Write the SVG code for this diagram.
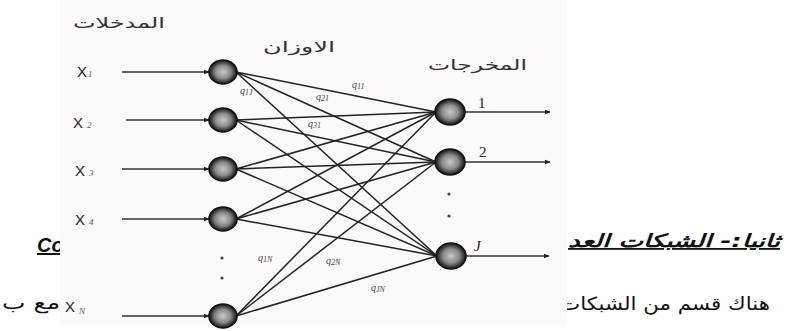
<svg xmlns="http://www.w3.org/2000/svg" width="788" height="331" viewBox="0 0 788 331">
<style>
.ar{font-family:"DejaVu Sans",sans-serif;fill:#111}
.lbl{font-family:"DejaVu Sans",sans-serif;fill:#333;font-size:15px}
.x{font-family:"Liberation Sans",sans-serif;font-size:15px;fill:#222}
.sub{font-family:"Liberation Serif",serif;font-style:italic;font-size:9px;fill:#555}
.q{font-family:"Liberation Serif",serif;font-style:italic;font-size:10px;fill:#444}
.qs{font-size:8px}
.out{font-family:"Liberation Serif",serif;font-size:15px;fill:#222}
.edge{stroke:#222;stroke-width:1.5;fill:none}
.arr{stroke:#333;stroke-width:1.5;fill:none;marker-end:url(#ah)}
.node{fill:url(#ng);stroke:#111;stroke-width:1.6}
.dot{fill:#444}
</style>
<defs>
<radialGradient id="ng" cx="0.5" cy="0.5" r="0.5">
<stop offset="0" stop-color="#c8c8c8"/>
<stop offset="0.55" stop-color="#8a8a8a"/>
<stop offset="1" stop-color="#111"/>
</radialGradient>
<marker id="ah" viewBox="0 0 10 10" refX="9" refY="5" markerWidth="4" markerHeight="4" orient="auto" markerUnits="strokeWidth">
<path d="M0,1 L10,5 L0,9 z" fill="#222"/>
</marker>
</defs>
<rect width="788" height="331" fill="#ffffff"/>
<g id="page-text">
<text x="37" y="252" style="font-family:'Liberation Sans',sans-serif;font-weight:bold;font-style:italic;font-size:20px;text-decoration:underline;fill:#111">Com</text>
<text class="ar" x="2" y="309" textLength="58" lengthAdjust="spacingAndGlyphs" style="font-size:18px">مع ب</text>
<text class="ar" x="568" y="247" textLength="212" lengthAdjust="spacingAndGlyphs" style="font-size:18px;font-weight:bold;font-style:italic;text-decoration:underline">ثانيا:- الشبكات العد</text>
<text class="ar" x="560" y="310" textLength="210" lengthAdjust="spacingAndGlyphs" style="font-size:18px">هناك قسم من الشبكات</text>
</g>
<rect id="figure-bg" x="60" y="0" width="507" height="325" fill="#fcf9fb"/>
<g id="headers">
<text class="lbl" x="73" y="28" textLength="92" lengthAdjust="spacingAndGlyphs">المدخلات</text>
<text class="lbl" x="263" y="52" textLength="72" lengthAdjust="spacingAndGlyphs">الاوزان</text>
<text class="lbl" x="428" y="70" textLength="99" lengthAdjust="spacingAndGlyphs">المخرجات</text>
</g>
<g id="connectors">
<line class="arr" x1="122" y1="72" x2="209" y2="72"/>
<line class="arr" x1="126" y1="120" x2="209" y2="120"/>
<line class="arr" x1="122" y1="169" x2="209" y2="169"/>
<line class="arr" x1="122" y1="219" x2="209" y2="219"/>
<line class="arr" x1="122" y1="316" x2="209" y2="316"/>
<line class="edge" x1="236" y1="72" x2="436" y2="112"/>
<line class="edge" x1="236" y1="72" x2="436" y2="162"/>
<line class="edge" x1="236" y1="72" x2="437" y2="256"/>
<line class="edge" x1="236" y1="120" x2="436" y2="112"/>
<line class="edge" x1="236" y1="120" x2="436" y2="162"/>
<line class="edge" x1="236" y1="120" x2="437" y2="256"/>
<line class="edge" x1="236" y1="169" x2="436" y2="112"/>
<line class="edge" x1="236" y1="169" x2="436" y2="162"/>
<line class="edge" x1="236" y1="169" x2="437" y2="256"/>
<line class="edge" x1="236" y1="219" x2="436" y2="112"/>
<line class="edge" x1="236" y1="219" x2="436" y2="162"/>
<line class="edge" x1="236" y1="219" x2="437" y2="256"/>
<line class="edge" x1="236" y1="316" x2="436" y2="112"/>
<line class="edge" x1="236" y1="316" x2="436" y2="162"/>
<line class="edge" x1="236" y1="316" x2="437" y2="256"/>
<line class="arr" x1="464" y1="112" x2="550" y2="112"/>
<line class="arr" x1="464" y1="162" x2="550" y2="162"/>
<line class="arr" x1="466" y1="256" x2="549" y2="256"/>
</g>
<g id="weights">
<text class="q" x="352" y="88">q<tspan class="qs" dy="1">11</tspan></text>
<text class="q" x="316" y="100">q<tspan class="qs" dy="1">21</tspan></text>
<text class="q" x="308" y="127">q<tspan class="qs" dy="1">31</tspan></text>
<text class="q" x="240" y="94">q<tspan class="qs" dy="1">1J</tspan></text>
<text class="q" x="258" y="261">q<tspan class="qs" dy="1">1N</tspan></text>
<text class="q" x="326" y="264">q<tspan class="qs" dy="1">2N</tspan></text>
<text class="q" x="371" y="291">q<tspan class="qs" dy="1">JN</tspan></text>
</g>
<g id="in1"><text class="x" x="77" y="77">X<tspan class="sub" dx="1">1</tspan></text><ellipse class="node" cx="223" cy="72" rx="14" ry="12"/></g>
<g id="in2"><text class="x" x="73" y="128">X<tspan class="sub" dx="4">2</tspan></text><ellipse class="node" cx="223" cy="120" rx="14" ry="12"/></g>
<g id="in3"><text class="x" x="75" y="176">X<tspan class="sub" dx="4">3</tspan></text><ellipse class="node" cx="223" cy="169" rx="14" ry="12"/></g>
<g id="in4"><text class="x" x="75" y="225">X<tspan class="sub" dx="4">4</tspan></text><ellipse class="node" cx="223" cy="219" rx="14" ry="12"/></g>
<g id="inN"><text class="x" x="65" y="312">X<tspan class="sub" dx="4" dy="2">N</tspan></text><ellipse class="node" cx="223" cy="316" rx="14" ry="12"/></g>
<g id="in-dots"><circle class="dot" cx="222" cy="258" r="1.6"/><circle class="dot" cx="222" cy="278" r="1.6"/></g>
<g id="out1"><ellipse class="node" cx="450" cy="112" rx="15" ry="13"/><text class="out" x="478" y="108">1</text></g>
<g id="out2"><ellipse class="node" cx="450" cy="162" rx="15" ry="13"/><text class="out" x="479" y="157">2</text></g>
<g id="outJ"><ellipse class="node" cx="451" cy="256" rx="15" ry="13"/><text class="out" x="474" y="251" font-style="italic">J</text></g>
<g id="out-dots"><circle class="dot" cx="449" cy="194" r="1.6"/><circle class="dot" cx="449" cy="216" r="1.6"/></g>
</svg>
